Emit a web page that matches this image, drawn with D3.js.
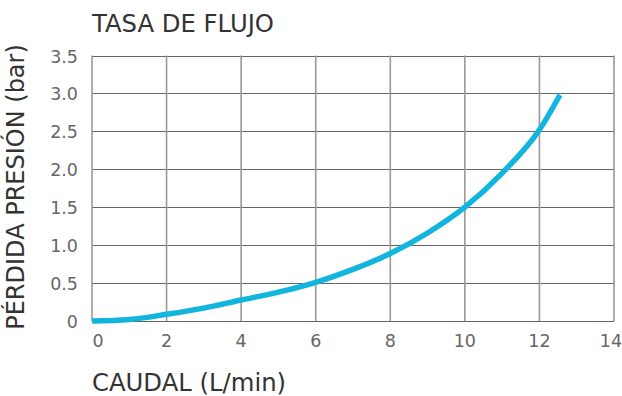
<!DOCTYPE html>
<html><head><meta charset="utf-8">
<script src="https://cdn.jsdelivr.net/npm/d3@7"></script>
<style>html,body{margin:0;padding:0;background:#fff;}svg{display:block;}</style>
</head><body>
<svg id="c" width="622" height="396"></svg>
<script>
const flow = [0, 1, 2, 3, 4, 5, 6, 7, 8, 9, 10, 11, 12, 12.55];
const pressure = [0, 0.02, 0.088, 0.17, 0.277, 0.38, 0.51, 0.68, 0.89, 1.16, 1.5, 1.95, 2.52, 2.98];
const xTicks = [0, 2, 4, 6, 8, 10, 12, 14];
const yTicks = [0, 0.5, 1.0, 1.5, 2.0, 2.5, 3.0, 3.5];
const yTickLabels = ["0", "0.5", "1.0", "1.5", "2.0", "2.5", "3.0", "3.5"];
const title = "TASA DE FLUJO";
const xTitle = "CAUDAL (L/min)";
const yTitle = "PÉRDIDA PRESIÓN (bar)";

const font = "DejaVu Sans, sans-serif";
const svg = d3.select("#c");
const m = {l: 92, r: 614, t: 55.5, b: 321};
const x = d3.scaleLinear().domain([0, 14]).range([m.l, m.r]);
const y = d3.scaleLinear().domain([0, 3.5]).range([m.b, m.t]);

// horizontal grid
svg.append("g").selectAll("line").data(yTicks).join("line")
  .attr("x1", m.l).attr("x2", m.r)
  .attr("y1", d => Math.round(y(d)) + 0.5).attr("y2", d => Math.round(y(d)) + 0.5)
  .attr("stroke", "#666").attr("stroke-width", 1.2);
// vertical grid
svg.append("g").selectAll("line").data(xTicks).join("line")
  .attr("x1", d => x(d)).attr("x2", d => x(d))
  .attr("y1", m.t).attr("y2", m.b)
  .attr("stroke", "#999").attr("stroke-width", 1.6);

// tick labels
svg.append("g").selectAll("text").data(yTicks).join("text")
  .attr("x", 78).attr("y", d => y(d) + 1)
  .attr("text-anchor", "end").attr("dominant-baseline", "central")
  .attr("font-family", font).attr("font-size", 17.5).attr("fill", "#666")
  .text((d, i) => yTickLabels[i]);
svg.append("g").selectAll("text").data(xTicks).join("text")
  .attr("x", d => x(d) + (d === 0 ? 6 : d === 14 ? -3 : 0)).attr("y", 347)
  .attr("text-anchor", "middle")
  .attr("font-family", font).attr("font-size", 17.5).attr("fill", "#666")
  .text(d => d);

// curve
const line = d3.line().x(d => x(d[0])).y(d => y(d[1])).curve(d3.curveMonotoneX);
svg.append("path").datum(flow.map((f, i) => [f, pressure[i]]))
  .attr("d", line).attr("fill", "none")
  .attr("stroke", "#12b5dd").attr("stroke-width", 5.5);

// titles
svg.append("text").attr("x", 92).attr("y", 31.5)
  .attr("font-family", font).attr("font-size", 24.3).attr("fill", "#333")
  .text(title);
svg.append("text").attr("x", 92).attr("y", 391)
  .attr("font-family", font).attr("font-size", 24.3).attr("fill", "#333")
  .text(xTitle);
svg.append("text").attr("transform", "translate(24,187) rotate(-90)")
  .attr("text-anchor", "middle")
  .attr("font-family", font).attr("font-size", 24).attr("fill", "#333")
  .text(yTitle);
</script>
</body></html>
